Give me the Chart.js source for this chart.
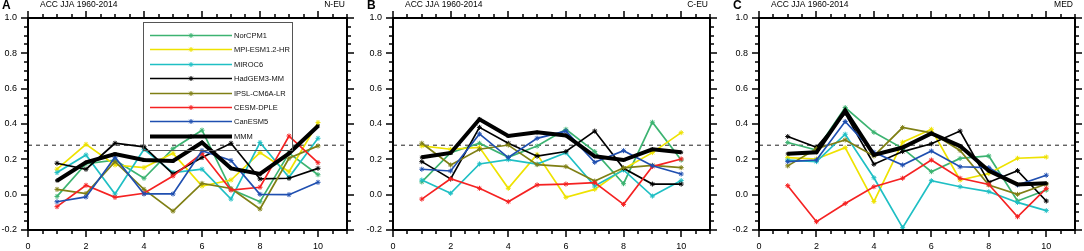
<!DOCTYPE html>
<html>
<head>
<meta charset="utf-8">
<script src="https://cdn.jsdelivr.net/npm/chart.js@4.4.1/dist/chart.umd.min.js"></script>
<style>
  html, body { margin: 0; padding: 0; background: #fff; }
  #wrap { position: relative; width: 1084px; height: 251px; overflow: hidden; }
  canvas { position: absolute; top: 0; }
</style>
</head>
<body>
<div id="wrap">
  <canvas id="cA" width="357" height="251" style="left:0px"></canvas>
  <canvas id="cB" width="355" height="251" style="left:365px"></canvas>
  <canvas id="cC" width="353" height="251" style="left:731px"></canvas>
</div>
<script>
// lead years on the x axis
const LEAD_YEARS = [1, 2, 3, 4, 5, 6, 7, 8, 9, 10];
const MODELS = ['NorCPM1', 'MPI-ESM1.2-HR', 'MIROC6', 'HadGEM3-MM', 'IPSL-CM6A-LR', 'CESM-DPLE', 'CanESM5', 'MMM'];
const COLORS = ['#3cb371', '#eee200', '#1fbfc4', '#000000', '#7f7f14', '#f52222', '#1f4fb0', '#000000'];
const X_TICKS = [0, 2, 4, 6, 8, 10];
const Y_TICKS = [-0.2, 0.0, 0.2, 0.4, 0.6, 0.8, 1.0];
const THRESHOLD = 0.28;
const TITLE = 'ACC JJA 1960-2014';

// N-EU
const NEU_NORCPM1 = [-0.01, 0.175, 0.195, 0.093, 0.26, 0.365, 0.03, -0.04, 0.235, 0.113];
const NEU_MPI     = [0.144, 0.285, 0.168, 0.153, 0.234, 0.049, 0.083, 0.238, 0.13, 0.408];
const NEU_MIROC6  = [0.125, 0.225, 0.004, 0.257, 0.125, 0.144, -0.025, 0.295, 0.098, 0.319];
const NEU_HADGEM3 = [0.178, 0.144, 0.291, 0.271, 0.117, 0.21, 0.291, 0.089, 0.093, 0.149];
const NEU_IPSL    = [0.03, 0.006, 0.187, 0.03, -0.093, 0.064, 0.035, -0.081, 0.206, 0.276];
const NEU_CESM    = [-0.068, 0.053, -0.015, 0.008, 0.106, 0.234, 0.026, 0.042, 0.332, 0.181];
const NEU_CANESM5 = [-0.04, -0.013, 0.212, 0.004, 0.004, 0.249, 0.193, 0.002, 0.0, 0.07];
const NEU_MMM     = [0.079, 0.183, 0.23, 0.196, 0.191, 0.295, 0.149, 0.117, 0.234, 0.389];

// C-EU
const CEU_NORCPM1 = [0.072, 0.238, 0.291, 0.212, 0.275, 0.37, 0.244, 0.062, 0.41, 0.196];
const CEU_MPI     = [0.276, 0.257, 0.268, 0.036, 0.228, -0.015, 0.03, 0.145, 0.238, 0.351];
const CEU_MIROC6  = [0.083, 0.008, 0.174, 0.198, 0.173, 0.237, 0.049, 0.14, -0.008, 0.08];
const CEU_HADGEM3 = [0.187, 0.089, 0.381, 0.291, 0.218, 0.244, 0.36, 0.149, 0.06, 0.06];
const CEU_IPSL    = [0.291, 0.168, 0.257, 0.281, 0.17, 0.159, 0.077, 0.152, 0.166, 0.153];
const CEU_CESM    = [-0.025, 0.09, 0.036, -0.04, 0.055, 0.06, 0.068, -0.055, 0.159, 0.202];
const CEU_CANESM5 = [0.144, 0.134, 0.344, 0.21, 0.319, 0.36, 0.183, 0.249, 0.164, 0.117];
const CEU_MMM     = [0.212, 0.236, 0.427, 0.332, 0.353, 0.335, 0.217, 0.196, 0.257, 0.24];

// MED
const MED_NORCPM1 = [0.295, 0.253, 0.493, 0.353, 0.262, 0.13, 0.205, 0.219, -0.036, 0.026];
const MED_MPI     = [0.21, 0.202, 0.266, -0.039, 0.297, 0.37, 0.083, 0.12, 0.206, 0.213];
const MED_MIROC6  = [0.195, 0.187, 0.342, 0.096, -0.187, 0.079, 0.045, 0.017, -0.044, -0.09];
const MED_HADGEM3 = [0.329, 0.268, 0.46, 0.172, 0.244, 0.288, 0.36, 0.07, 0.136, -0.036];
const MED_IPSL    = [0.163, 0.26, 0.31, 0.219, 0.38, 0.35, 0.25, 0.055, 0.002, 0.06];
const MED_CESM    = [0.051, -0.153, -0.05, 0.045, 0.093, 0.196, 0.093, 0.058, -0.125, 0.036];
const MED_CANESM5 = [0.187, 0.196, 0.414, 0.24, 0.168, 0.247, 0.158, 0.153, 0.055, 0.11];
const MED_MMM     = [0.231, 0.24, 0.476, 0.225, 0.267, 0.346, 0.275, 0.135, 0.058, 0.064];

const PANELS = [
  { id: 'cA', letter: 'A', region: 'N-EU', padRight: 10, legend: true,
    series: [NEU_NORCPM1, NEU_MPI, NEU_MIROC6, NEU_HADGEM3, NEU_IPSL, NEU_CESM, NEU_CANESM5, NEU_MMM] },
  { id: 'cB', letter: 'B', region: 'C-EU', padRight: 10, legend: false,
    series: [CEU_NORCPM1, CEU_MPI, CEU_MIROC6, CEU_HADGEM3, CEU_IPSL, CEU_CESM, CEU_CANESM5, CEU_MMM] },
  { id: 'cC', letter: 'C', region: 'MED', padRight: 9, legend: false,
    series: [MED_NORCPM1, MED_MPI, MED_MIROC6, MED_HADGEM3, MED_IPSL, MED_CESM, MED_CANESM5, MED_MMM] }
];

const FONT = "'Liberation Sans', Arial, Helvetica, sans-serif";

// box round the plot, with outward ticks on all four sides
const framePlugin = {
  id: 'frame',
  afterDraw(chart) {
    const { ctx, chartArea: a, scales: { x, y } } = chart;
    ctx.save();
    ctx.strokeStyle = '#000';
    ctx.lineWidth = 1.5;
    ctx.beginPath();
    for (let k = 0; k <= 22; k++) {
      const v = k * 0.5;
      const px = Math.round(x.getPixelForValue(v));
      const len = (k % 4 === 0) ? 7 : 4;
      ctx.moveTo(px, a.bottom); ctx.lineTo(px, a.bottom + len);
      ctx.moveTo(px, a.top); ctx.lineTo(px, a.top - len);
    }
    for (let k = 0; k <= 24; k++) {
      const v = -0.2 + k * 0.05;
      const py = Math.round(y.getPixelForValue(v));
      const len = (k % 4 === 0) ? 7 : 4;
      ctx.moveTo(a.left, py); ctx.lineTo(a.left - len, py);
      ctx.moveTo(a.right, py); ctx.lineTo(a.right + len, py);
    }
    ctx.stroke();
    ctx.lineWidth = 2;
    ctx.strokeRect(a.left, a.top, a.right - a.left, a.bottom - a.top);
    ctx.restore();
  }
};

// panel letter, title and region name
const headerPlugin = {
  id: 'header',
  afterDraw(chart, args, opts) {
    const { ctx, chartArea: a } = chart;
    ctx.save();
    ctx.fillStyle = '#000';
    ctx.textBaseline = 'middle';
    ctx.font = 'bold 12px ' + FONT;
    ctx.textAlign = 'left';
    ctx.fillText(opts.letter, a.left - 26, 6);
    ctx.font = '8.5px ' + FONT;
    ctx.fillText(TITLE, a.left + 12, 5);
    ctx.textAlign = 'right';
    ctx.fillText(opts.region, a.right - 2, 5);
    ctx.restore();
  }
};

// legend box inside the first panel
const legendPlugin = {
  id: 'legendBox',
  afterDatasetsDraw(chart, args, opts) {
    if (!opts.show) return;
    const { ctx, chartArea: a } = chart;
    const left = a.left + 115, top = a.top + 4, w = 149, h = 128;
    ctx.save();
    ctx.strokeStyle = '#555';
    ctx.lineWidth = 1;
    ctx.strokeRect(left + 0.5, top + 0.5, w, h);
    const items = chart.data.datasets.filter(d => MODELS.includes(d.label));
    items.sort((p, q) => MODELS.indexOf(p.label) - MODELS.indexOf(q.label));
    ctx.font = '7.5px ' + FONT;
    ctx.textBaseline = 'middle';
    ctx.textAlign = 'left';
    items.forEach((d, i) => {
      const yy = Math.round(top + 13 + i * 14.4) + 0.5;
      ctx.strokeStyle = d.borderColor;
      ctx.lineWidth = d.borderWidth;
      ctx.beginPath();
      ctx.moveTo(left + 7, yy);
      ctx.lineTo(left + 89, yy);
      ctx.stroke();
      ctx.lineWidth = 1;
      Chart.helpers.drawPoint(ctx, { pointStyle: 'star', radius: 2.5, rotation: 0, borderWidth: 1 }, left + 48, yy);
      ctx.fillStyle = '#111';
      ctx.fillText(d.label, left + 91, yy);
    });
    ctx.restore();
  }
};

function makeChart(p) {
  const datasets = MODELS.map((name, i) => ({
    label: name,
    data: LEAD_YEARS.map((x, j) => ({ x, y: p.series[i][j] })),
    borderColor: COLORS[i],
    backgroundColor: COLORS[i],
    borderWidth: name === 'MMM' ? 4 : 1.7,
    pointStyle: 'star',
    pointRadius: name === 'MMM' ? 2 : 2.5,
    pointBorderWidth: 1,
    tension: 0,
    order: MODELS.length - i
  }));
  datasets.push({
    label: 'threshold',
    data: [{ x: 0, y: THRESHOLD }, { x: 11, y: THRESHOLD }],
    borderColor: '#222',
    borderWidth: 1,
    borderDash: [4, 4],
    pointRadius: 0,
    order: 20
  });

  const tickFont = { family: FONT, size: 9 };

  new Chart(document.getElementById(p.id), {
    type: 'line',
    data: { datasets },
    options: {
      responsive: false,
      animation: false,
      events: [],
      layout: { padding: { top: 18, right: p.padRight, left: 0, bottom: 0 } },
      plugins: {
        legend: { display: false },
        tooltip: { enabled: false },
        header: { letter: p.letter, region: p.region },
        legendBox: { show: p.legend }
      },
      scales: {
        x: {
          type: 'linear',
          min: 0,
          max: 11,
          afterBuildTicks: s => { s.ticks = X_TICKS.map(v => ({ value: v })); },
          afterFit: s => { s.height = 21; },
          grid: { display: false, drawTicks: true, tickLength: 8 },
          border: { display: false },
          ticks: { padding: 3, color: '#000', font: tickFont, maxRotation: 0, autoSkip: false,
                   callback: v => String(v) }
        },
        y: {
          type: 'linear',
          min: -0.2,
          max: 1.0,
          afterBuildTicks: s => { s.ticks = Y_TICKS.map(v => ({ value: v })); },
          afterFit: s => { s.width = 28; },
          grid: { display: false, drawTicks: true, tickLength: 8 },
          border: { display: false },
          ticks: { padding: 3, color: '#000', font: tickFont, autoSkip: false,
                   callback: v => Number(v).toFixed(1) }
        }
      }
    },
    plugins: [framePlugin, headerPlugin, legendPlugin]
  });
}

PANELS.forEach(makeChart);
</script>
</body>
</html>
